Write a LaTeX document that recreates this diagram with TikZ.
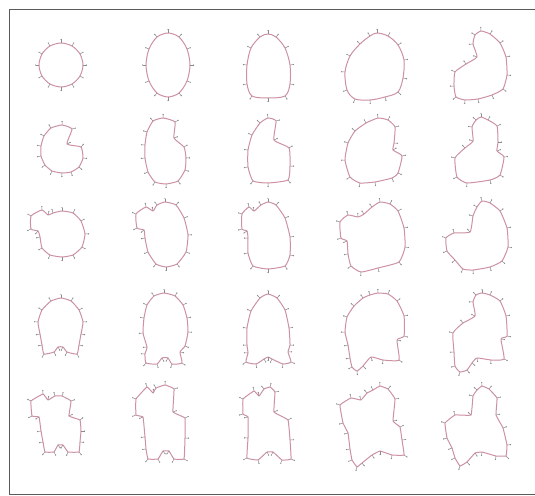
\documentclass[tikz,border=0pt]{standalone}
\usetikzlibrary{calc}
\definecolor{curvecol}{RGB}{205,145,162}
\definecolor{tickcol}{RGB}{140,140,140}
\definecolor{framecol}{RGB}{90,90,90}
\tikzset{
  curve/.style={draw=curvecol, line width=1pt, line join=round},
  tickline/.style={draw=tickcol, line width=0.5pt},
  frameline/.style={draw=framecol, line width=0.9pt}
}
\newcommand\blob[2]{%
  \foreach \xx/\yy [count=\ii] in {#2} {\coordinate (q\ii) at (\xx,\yy); \xdef\nq{\ii}}%
  \gdef\plist{}%
  \foreach \ii in {1,...,\nq} {\xdef\plist{\plist (q\ii)}}%
  \edef\tmp{\noexpand\draw[curve] plot[smooth cycle, tension=#1] coordinates {\plist};}\tmp
  \foreach \ii in {1,...,\nq} {%
    \pgfmathtruncatemacro\ip{mod(\ii+\nq-2,\nq)+1}%
    \pgfmathtruncatemacro\ix{mod(\ii,\nq)+1}%
    \coordinate (tv) at ($(q\ip)!3.5pt!90:(q\ix)$);
    \coordinate (te) at ($(q\ii)+(tv)-(q\ip)$);
    \draw[tickline] (q\ii) -- (te);
    \fill[tickcol] (te) circle (0.7pt);
  }%
}
\begin{document}
\begin{tikzpicture}[x=1pt,y=-1pt]
\useasboundingbox (0,0) rectangle (535,495);
\draw[frameline] (536,9) -- (9,9) -- (9,494) -- (536,494);
% row 1
\blob{0.5}{61/43, 72/46, 80/54, 83/65, 80/76, 72/84, 61/87, 50/84, 42/76, 39/65, 42/54, 50/46}
\blob{0.5}{168/33, 179/37, 187/49, 190/65, 187/81, 179/93, 168/97, 157/93, 149/81, 146/65, 149/49, 157/37}
\blob{0.5}{268/34, 276/37, 285/48, 290/65, 290/84, 285/96, 268/98, 252/96, 247/84, 247/65, 251/48, 260/37}
\blob{0.5}{377/33, 388/36, 398/45, 404/60, 403/78, 398/92, 385/97, 370/100, 355/99, 347/90, 345/72, 350/56, 360/44, 370/36}
\blob{0.3}{481/31, 490/34, 500/43, 506/57, 507/75, 503/89, 492/95, 478/99, 465/100, 456/97, 454/86, 455/72, 466/64, 477/57, 473/44, 475/35}
% row 2
\blob{0.3}{62/125, 72/129, 67/144, 81/147, 83/158, 79/167, 71/172, 62/173, 52/171, 45/165, 41/156, 41/146, 44/136, 51/128}
\blob{0.3}{163/118, 175/122, 174/138, 184/147, 186/158, 185/170, 178/181, 166/184, 155/182, 148/172, 145/158, 145/145, 147/132, 153/121}
\blob{0.3}{268/118, 276/121, 274/140, 289/148, 290/166, 288/180, 268/183, 253/181, 248/167, 248/150, 252/135, 260/123}
\blob{0.3}{378/118, 388/120, 395/127, 394/143, 393/150, 402/156, 398/173, 392/178, 375/182, 360/183, 350/177, 345/160, 348/143, 355/131, 366/123}
\blob{0.3}{481/117, 488/120, 497/126, 498/142, 497/151, 504/157, 500/175, 490/180, 467/183, 457/177, 455/158, 465/148, 473/141, 472/127, 476/120}
% row 3
\blob{0.3}{62/211, 73/213, 81/221, 85/234, 82/247, 73/255, 62/257, 50/255, 42/248, 40/237, 38/231, 31/229, 31/216, 42/210, 48/215, 53/213}
\blob{0.3}{165/202, 176/205, 184/218, 188/235, 186/252, 177/264, 166/267, 156/264, 148/252, 145/238, 144/230, 137/228, 136/214, 146/207, 153/211, 157/205}
\blob{0.3}{268/202, 276/205, 285/218, 290/237, 290/255, 285/266, 268/269, 253/266, 248/253, 248/238, 247/231, 242/229, 242/214, 249/207, 254/211, 261/205}
\blob{0.3}{380/202, 390/204, 398/211, 404/228, 405/247, 399/262, 378/268, 361/272, 351/266, 348/254, 347/241, 341/238, 340/222, 348/215, 358/217, 364/214, 372/207}
\blob{0.3}{482/201, 490/203, 500/211, 507/228, 508/247, 502/261, 490/267, 473/270, 463/269, 455/260, 447/251, 446/238, 454/233, 470/232, 473/216, 477/207}
% row 4
\blob{0.3}{61/298, 71/301, 79/310, 83/322, 81/334, 79/345, 77/354, 67/352, 63/347, 58/347, 54/352, 44/354, 42/345, 40/334, 38/322, 42/310, 51/301}
\blob{0.3}{164/293, 175/296, 183/305, 187/318, 188/332, 185/346, 180/352, 182/363, 172/364, 168/358, 162/358, 157/364, 146/363, 145/354, 147/347, 143/333, 144/318, 147/305, 154/296}
\blob{0.3}{268/294, 277/298, 285/310, 289/328, 290/345, 288/352, 291/362, 283/364, 272/359, 268/357, 264/359, 256/364, 246/362, 248/353, 247/345, 247/328, 251/311, 260/298}
\blob{0.3}{378/293, 388/294, 397/301, 404/316, 404/336, 397/340, 399/360, 383/360, 371/357, 363/366, 357/371, 352/367, 350/358, 348/345, 345/332, 347/317, 354/306, 363/298, 370/295}
\blob{0.3}{482/293, 490/295, 500/301, 506/316, 507/336, 501/339, 504/359, 491/360, 477/358, 472/363, 467/370, 460/372, 455/366, 454/352, 453/333, 463/323, 475/316, 473/302, 476/295}
% row 5
\blob{0.15}{43/394, 48/400, 55/396, 62/396, 71/401, 69/416, 80/420, 81/431, 80/442, 79/452, 68/452, 63/445, 58/445, 54/452, 45/452, 43/442, 41/431, 39/417, 32/416, 31/401}
\blob{0.15}{147/387, 153/393, 156/388, 165/385, 174/389, 173/412, 185/418, 185/438, 184/459, 174/459, 169/451, 163/451, 158/459, 148/459, 146/449, 145/437, 143/417, 136/415, 136/399}
\blob{0.15}{254/391, 259/396, 264/389, 270/387, 275/392, 274/412, 288/420, 290/440, 291/459, 282/460, 273/452, 267/452, 258/460, 247/458, 248/438, 248/417, 243/414, 243/399}
\blob{0.15}{380/386, 388/389, 395/399, 393/421, 400/427, 402/440, 404/455, 392/455, 380/451, 372/455, 362/463, 357/467, 352/460, 350/449, 348/433, 343/423, 340/405, 351/398, 361/400, 367/393, 373/390}
\blob{0.15}{482/386, 489/389, 497/398, 496/415, 503/428, 507/445, 506/456, 496/456, 482/452, 475/453, 467/462, 460/466, 455/458, 452/448, 447/438, 445/423, 455/415, 471/415, 473/396, 477/390}
\end{tikzpicture}
\end{document}
